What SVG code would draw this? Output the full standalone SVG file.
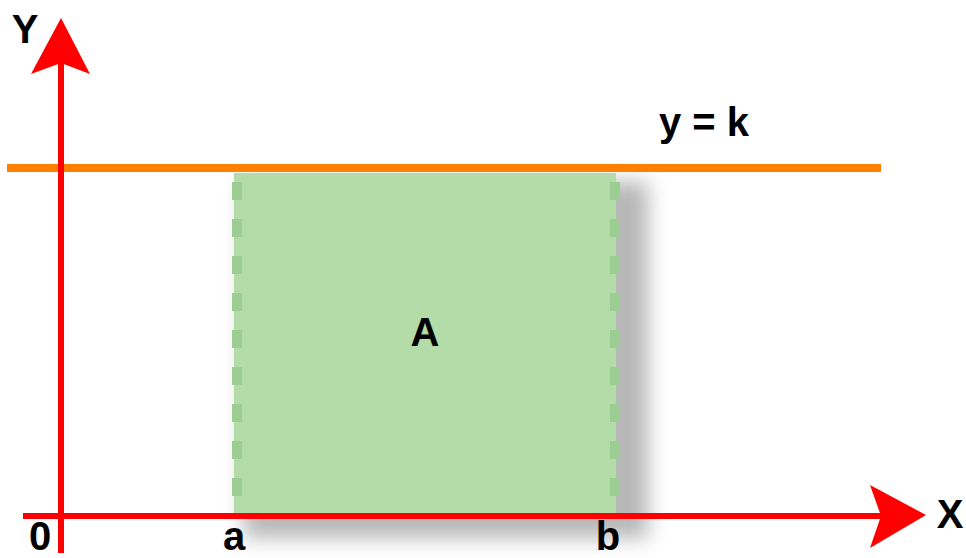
<svg xmlns="http://www.w3.org/2000/svg" width="966" height="558" viewBox="0 0 966 558">
<defs>
<style>
.lbl{font-family:"Liberation Sans",Arial,sans-serif;font-weight:bold;font-size:40px;fill:#000}
.axis{stroke:#ff0000;stroke-width:6;fill:none}
.head{fill:#ff0000}
.edge{stroke:#9ccd93;stroke-width:10;stroke-dasharray:18 19;fill:none}
</style>
<filter id="sh" x="-20%" y="-20%" width="140%" height="140%">
<feGaussianBlur stdDeviation="10"/>
</filter>
</defs>
<rect width="966" height="558" fill="#fff"/>
<g id="region-A">
<rect x="244" y="182" width="404" height="356" fill="#999" opacity="0.7" filter="url(#sh)"/>
<rect x="234" y="173" width="382" height="341" fill="#b3dca8"/>
<line class="edge" x1="237" y1="182" x2="237" y2="514"/>
<line class="edge" x1="615" y1="182" x2="615" y2="514"/>
<text class="lbl" x="425" y="346" text-anchor="middle">A</text>
</g>
<g id="line-y-k">
<line x1="7" y1="168" x2="881" y2="168" stroke="#ff8000" stroke-width="8"/>
<text class="lbl" x="704" y="136" text-anchor="middle">y = k</text>
</g>
<g id="connectors">
<line class="axis" x1="61" y1="60" x2="61" y2="553"/>
<polygon class="head" points="61,18 90,74 61,63 31,74"/>
<line class="axis" x1="23" y1="516" x2="885" y2="516"/>
<polygon class="head" points="926,515 870,485 881,516 870,548"/>
</g>
<g id="labels">
<text class="lbl" x="25" y="43" text-anchor="middle">Y</text>
<text class="lbl" x="40" y="550" text-anchor="middle">0</text>
<text class="lbl" x="234" y="550" text-anchor="middle">a</text>
<text class="lbl" x="608" y="550" text-anchor="middle">b</text>
<text class="lbl" x="950" y="528" text-anchor="middle">X</text>
</g>
</svg>
